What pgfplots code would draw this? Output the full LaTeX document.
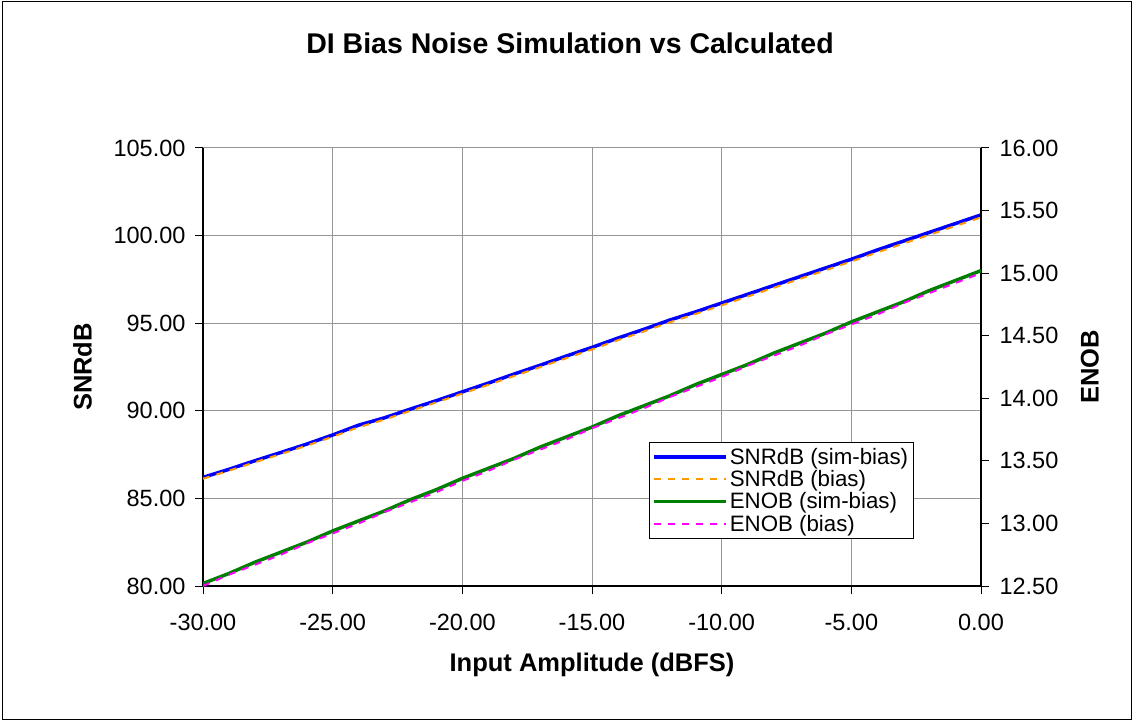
\documentclass[border=0pt]{standalone}
\usepackage{fontspec}
\setmainfont{Liberation Sans}
\usepackage{pgfplots}
\pgfplotsset{compat=1.18}
\definecolor{snrsim}{RGB}{0,0,255}
\definecolor{snrbias}{RGB}{255,153,0}
\definecolor{enobsim}{RGB}{0,128,0}
\definecolor{enobbias}{RGB}{255,0,255}
\definecolor{gridgray}{RGB}{150,150,150}

\pgfplotstableread{
x snrsim snrbias
-30 86.20 86.12
-29 86.66 86.58
-28 87.15 87.06
-27 87.62 87.53
-26 88.10 88.01
-25 88.62 88.52
-24 89.18 89.06
-23 89.60 89.50
-22 90.10 90.00
-21 90.58 90.48
-20 91.08 90.98
-19 91.58 91.48
-18 92.10 91.99
-17 92.60 92.49
-16 93.12 93.00
-15 93.62 93.50
-14 94.15 94.03
-13 94.65 94.53
-12 95.18 95.05
-11 95.65 95.53
-10 96.15 96.02
-9 96.65 96.52
-8 97.15 97.02
-7 97.65 97.52
-6 98.15 98.02
-5 98.65 98.52
-4 99.18 99.04
-3 99.68 99.54
-2 100.18 100.04
-1 100.68 100.54
0 101.18 101.04
}\snrdata

\pgfplotstableread{
x enobsim enobbias
-30 12.52 12.50
-29 12.60 12.59
-28 12.69 12.67
-27 12.77 12.75
-26 12.85 12.84
-25 12.94 12.92
-24 13.02 13.00
-23 13.10 13.09
-22 13.19 13.17
-21 13.27 13.25
-20 13.36 13.34
-19 13.44 13.42
-18 13.52 13.51
-17 13.61 13.59
-16 13.69 13.67
-15 13.77 13.76
-14 13.86 13.84
-13 13.94 13.92
-12 14.02 14.01
-11 14.11 14.09
-10 14.19 14.17
-9 14.27 14.26
-8 14.36 14.34
-7 14.44 14.42
-6 14.52 14.51
-5 14.61 14.59
-4 14.69 14.67
-3 14.77 14.76
-2 14.86 14.84
-1 14.94 14.92
0 15.02 15.00
}\enobdata

\pgfplotsset{
  common/.style={
    scale only axis,
    width=778pt, height=438pt,
    at={(203pt,135pt)}, anchor=south west,
    xmin=-30, xmax=0,
    tick align=outside,
    major tick length=8pt,
    every tick/.style={black, line width=1pt},
    axis line style={black, line width=1.5pt},
    tick label style={font=\fontsize{23.5}{26}\selectfont},
    label style={font=\fontsize{25.5}{28}\selectfont\bfseries},
  },
}

\begin{document}
\begin{tikzpicture}
\useasboundingbox (0,0) rectangle (1133pt,721pt);
\draw[black, line width=1pt] (2pt,2pt) rectangle (1131pt,719pt);
\node[font=\fontsize{28.5}{31}\selectfont\bfseries] at (570pt,678pt) {DI Bias Noise Simulation vs Calculated};

\begin{axis}[
  common,
  axis x line*=bottom, axis y line*=left,
  ymin=80, ymax=105,
  xtick={-30,-25,...,0},
  xticklabels={-30.00,-25.00,-20.00,-15.00,-10.00,-5.00,0.00},
  ytick={80,85,...,105},
  yticklabels={80.00,85.00,90.00,95.00,100.00,105.00},
  grid=major,
  major grid style={gridgray, line width=1pt},
  xticklabel style={yshift=-17pt},
  yticklabel style={xshift=-6pt},
  xlabel={Input Amplitude (dBFS)},
  xlabel style={at={(axis description cs:0.5,-0.180)}, anchor=center},
  ylabel={SNRdB},
  ylabel style={at={(axis description cs:-0.155,0.5)}, anchor=center},
]
\addplot[color=snrsim, line width=3.5pt] table[x=x, y=snrsim] {\snrdata};
\addplot[color=snrbias, line width=2pt, dash pattern=on 7pt off 7pt] table[x=x, y=snrbias] {\snrdata};
\end{axis}

\begin{axis}[
  common,
  axis x line=none, axis y line*=right,
  ymin=12.5, ymax=16,
  ytick={12.5,13,...,16},
  yticklabels={12.50,13.00,13.50,14.00,14.50,15.00,15.50,16.00},
  yticklabel style={xshift=7pt},
  ylabel={ENOB},
  ylabel style={at={(axis description cs:1.140,0.5)}, anchor=center},
  legend style={at={(0.573,0.329)}, anchor=north west, draw=black, line width=1pt,
    fill=white, font=\fontsize{22.3}{24}\selectfont, cells={anchor=west},
    inner xsep=3pt, inner ysep=4pt, row sep=0.5pt,
    nodes={inner xsep=2pt}},
  legend image code/.code={\draw[#1] (0pt,0pt) -- (72pt,0pt);},
]
\addlegendimage{color=snrsim, line width=3.5pt}
\addlegendentry{SNRdB (sim-bias)}
\addlegendimage{color=snrbias, line width=2pt, dash pattern=on 7pt off 7pt}
\addlegendentry{SNRdB (bias)}
\addplot[color=enobsim, line width=3.5pt] table[x=x, y=enobsim] {\enobdata};
\addlegendentry{ENOB (sim-bias)}
\addplot[color=enobbias, line width=2pt, dash pattern=on 7pt off 7pt] table[x=x, y=enobbias] {\enobdata};
\addlegendentry{ENOB (bias)}
\end{axis}
\end{tikzpicture}
\end{document}
